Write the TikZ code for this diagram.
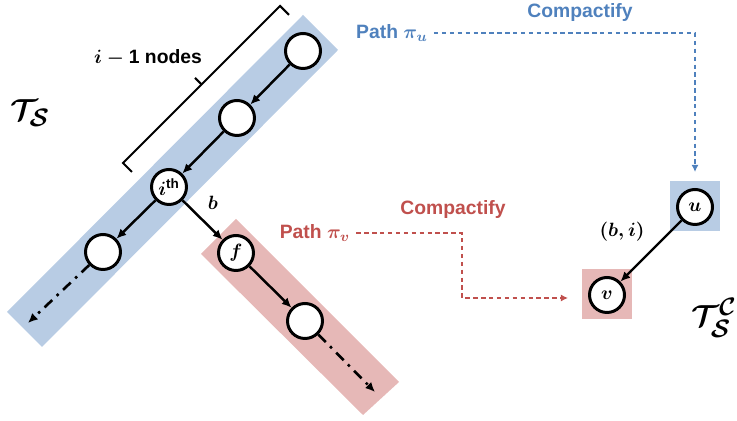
\documentclass[tikz,border=0pt]{standalone}
\usepackage[no-math]{fontspec}
\setmainfont{Liberation Sans}
\usepackage{xcolor}
\usepackage{amsmath}
\usepackage{bm}
\usetikzlibrary{arrows.meta}

\definecolor{bandblue}{RGB}{184,204,228}
\definecolor{bandred}{RGB}{230,184,183}
\definecolor{pathblue}{RGB}{79,129,189}
\definecolor{pathred}{RGB}{192,80,77}

\begin{document}
\begin{tikzpicture}[x=0.02cm,y=-0.02cm,>={Latex[length=5.5pt,width=5pt]},font=\fontsize{11}{13}\selectfont\bfseries\boldmath]
  \tikzstyle{vertex}=[circle,draw,line width=1.7pt,fill=white,minimum size=0.7cm,inner sep=0pt]
  \tikzstyle{edge}=[->,line width=1.4pt]
  \tikzstyle{tail}=[->,line width=1.5pt,dash pattern=on 6pt off 3.5pt on 1.5pt off 3.5pt]
  \tikzstyle{compact}=[->,line width=0.8pt,dash pattern=on 2.5pt off 2pt,>={Latex[length=4pt,width=4pt]}]
  \tikzstyle{bracket}=[line width=1.2pt]
  \tikzstyle{patch}=[minimum size=1cm,inner sep=0pt]
  \tikzstyle{tree}=[font=\fontsize{19}{22}\selectfont\boldmath]
  \useasboundingbox (0,0) rectangle (737,421);
  % bands behind the two paths of T_S
  \fill[bandblue] (303,15) -- (338,50) -- (42,347) -- (7,312) -- cycle;
  \fill[bandred] (236,219) -- (399,382) -- (363,415) -- (201,254) -- cycle;
  \foreach \name/\lab/\x/\y in {1//303/51,2//237/118,i/{$i^{\text{th}}$}/169/187,4//103/252,f/{$f$}/236/253,6//305/321}
    \node[vertex] (T-\name) at (\x,\y) {\lab};
  \foreach \from/\to in {1/2,2/i,i/4,i/f,f/6}
    \draw[edge] (T-\from) -- (T-\to);
  \coordinate (endL) at (28,323);
  \coordinate (endR) at (375,392);
  \draw[tail] (T-4) -- (endL);
  \draw[tail] (T-6) -- (endR);
  \node (b) at (213,203) {$b$};
  % bracket over the first i-1 nodes
  \draw[bracket] (132,172) -- (123,163) -- (280,6) -- (289,15);
  \draw[bracket] (201.5,84.5) -- (195,78);
  \node (span) at (148,58) {$i-\text{1}$ nodes};
  \node[tree] (TS) at (30,113) {$\mathcal{T}_{\mathcal{S}}$};

  % compacted tree
  \node[patch,fill=bandblue] (ubox) at (695,206) {};
  \node[patch,fill=bandred] (vbox) at (607,294.5) {};
  \node[vertex] (u) at (695,207) {$u$};
  \node[vertex] (v) at (607,295) {$v$};
  \draw[edge] (u) -- (v);
  \node (bi) at (622,232) {$(b,i)$};
  \node[tree] (TC) at (714,318) {$\mathcal{T}^{\mathcal{C}}_{\mathcal{S}}$};

  % compactify arrows
  \node[pathblue] (pu) at (392,33) {Path $\pi_u$};
  \node[pathblue] (cu) at (580,13) {Compactify};
  \coordinate (ua) at (695,172);
  \draw[compact,pathblue] (pu.east) -| (ua);
  \node[pathred] (pv) at (315,233) {Path $\pi_v$};
  \node[pathred] (cv) at (453,210) {Compactify};
  \coordinate (vc) at (462,232);
  \coordinate (va) at (568,298);
  \draw[compact,pathred] (pv.east) -- (pv.east -| vc) |- (va);
\end{tikzpicture}
\end{document}
